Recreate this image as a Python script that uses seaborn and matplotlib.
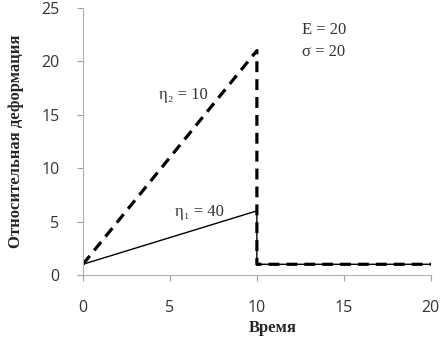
import matplotlib
matplotlib.use("Agg")
import matplotlib.pyplot as plt
import seaborn as sns
import pandas as pd

# данные
time = [0, 10, 10, 20]
strain_eta1 = [1, 6, 1, 1]     # η1 = 40
strain_eta2 = [1, 21, 1, 1]    # η2 = 10
x_ticks = [0, 5, 10, 15, 20]
y_ticks = [0, 5, 10, 15, 20, 25]

sns.set_style("white")

df1 = pd.DataFrame({"t": time, "eps": strain_eta1})
df2 = pd.DataFrame({"t": time, "eps": strain_eta2})

fig, ax = plt.subplots(figsize=(4.41, 3.42), dpi=100)
fig.subplots_adjust(left=0.188, right=0.977, top=0.977, bottom=0.196)

sns.lineplot(data=df1, x="t", y="eps", sort=False, estimator=None,
             color="black", lw=1.0, ax=ax)
sns.lineplot(data=df2, x="t", y="eps", sort=False, estimator=None,
             color="black", lw=2.3, linestyle=(0, (3.4, 2.2)), ax=ax)

ax.set_xlim(0, 20)
ax.set_ylim(0, 25)
ax.set_xticks(x_ticks)
ax.set_yticks(y_ticks)

tick_font = "Open Sans"
for lab in ax.get_xticklabels() + ax.get_yticklabels():
    lab.set_family(tick_font)
    lab.set_fontsize(11.5)
    lab.set_color("#333333")
ax.tick_params(axis="y", pad=13)
ax.tick_params(axis="x", pad=14)

ax.tick_params(direction="out", length=4, width=0.8, color="#a0a0a0",
               bottom=True, left=True)
for s in ["top", "right"]:
    ax.spines[s].set_visible(False)
for s in ["left", "bottom"]:
    ax.spines[s].set_color("#b0b0b0")
    ax.spines[s].set_linewidth(0.8)

ax.set_xlabel("Время", family="Liberation Serif", fontweight="bold", fontsize=12)
ax.set_ylabel("Относительная деформация", family="Liberation Serif", fontweight="bold",
              fontsize=12)
ax.xaxis.set_label_coords(0.545, -0.17)
ax.yaxis.set_label_coords(-0.17, 0.5)

ann = dict(family=["Liberation Serif", "DejaVu Serif"], fontsize=12, color="#333333")
ax.text(5.75, 16.8, "η₂ = 10", ha="center", va="center", **ann)
ax.text(6.7, 5.9, "η₁ = 40", ha="center", va="center", **ann)
ax.text(12.6, 22.9, "E = 20", ha="left", va="center", **ann)
ax.text(12.6, 20.9, "σ = 20", ha="left", va="center", **ann)

fig.savefig("out.png", dpi=100)
